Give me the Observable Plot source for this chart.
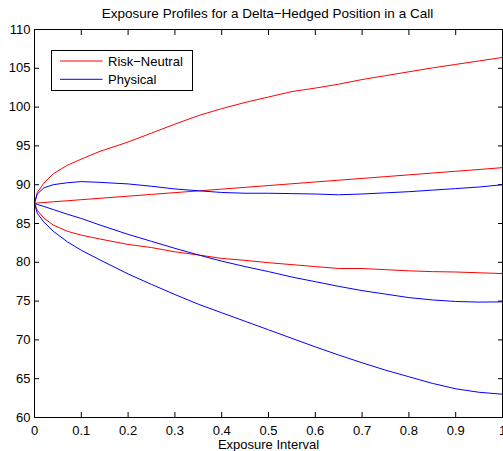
<!DOCTYPE html>
<html><head><meta charset="utf-8">
<script src="https://cdn.jsdelivr.net/npm/d3@7"></script>
<script src="https://cdn.jsdelivr.net/npm/@observablehq/plot@0.6"></script>
<style>
body{margin:0;background:#fff;font-family:"Liberation Sans",Arial,Helvetica,sans-serif;}
#wrap{position:relative;width:503px;height:451px;overflow:hidden;background:#fff;}
#title{position:absolute;left:34px;width:467px;top:6px;text-align:center;font-size:13.5px;color:#000;line-height:normal;white-space:nowrap;}
#chart{position:absolute;left:0;top:24px;}
#legend{position:absolute;left:0;top:0;}
</style>
</head><body>
<div id="wrap">
  <div id="title">Exposure Profiles for a Delta−Hedged Position in a Call</div>
  <div id="chart"></div>
  <svg id="legend" width="503" height="120"></svg>
</div>
<script>
// Exposure interval (x)
const t = [0, 0.006, 0.02, 0.04, 0.07, 0.1, 0.14, 0.2, 0.25, 0.3, 0.35, 0.4, 0.45, 0.5, 0.55, 0.6, 0.65, 0.7, 0.75, 0.8, 0.85, 0.9, 0.95, 1];
// Risk-Neutral profiles (red)
const rnUpper = [87.6, 89.0, 90.2, 91.4, 92.5, 93.3, 94.3, 95.5, 96.65, 97.8, 98.9, 99.8, 100.6, 101.3, 102.0, 102.45, 102.95, 103.55, 104.05, 104.55, 105.05, 105.5, 105.95, 106.4];
const rnMid   = [87.6, 87.63, 87.7, 87.8, 87.93, 88.07, 88.25, 88.52, 88.75, 88.98, 89.2, 89.43, 89.66, 89.89, 90.12, 90.35, 90.58, 90.81, 91.04, 91.27, 91.5, 91.73, 91.96, 92.2];
const rnLower = [87.6, 86.7, 85.7, 84.8, 84.0, 83.5, 83.0, 82.3, 81.9, 81.35, 80.95, 80.5, 80.25, 79.95, 79.7, 79.45, 79.2, 79.2, 79.05, 78.9, 78.8, 78.75, 78.65, 78.55];
// Physical profiles (blue)
const phUpper = [87.6, 88.8, 89.6, 90.0, 90.25, 90.4, 90.3, 90.1, 89.8, 89.45, 89.22, 89.0, 88.9, 88.9, 88.85, 88.8, 88.7, 88.8, 88.95, 89.1, 89.3, 89.5, 89.7, 90.0];
const phMid   = [87.6, 87.45, 87.2, 86.8, 86.2, 85.65, 84.8, 83.6, 82.7, 81.8, 80.95, 80.15, 79.45, 78.8, 78.1, 77.5, 76.9, 76.35, 75.9, 75.45, 75.15, 74.95, 74.87, 74.9];
const phLower = [87.6, 86.3, 85.2, 84.0, 82.65, 81.55, 80.3, 78.5, 77.15, 75.85, 74.6, 73.5, 72.4, 71.3, 70.2, 69.1, 68.05, 67.05, 66.1, 65.25, 64.4, 63.7, 63.25, 63.0];
// Ticks
const xTicks = [0, 0.1, 0.2, 0.3, 0.4, 0.5, 0.6, 0.7, 0.8, 0.9, 1];
const xTickLabels = ["0", "0.1", "0.2", "0.3", "0.4", "0.5", "0.6", "0.7", "0.8", "0.9", "1"];
const yTicks = [60, 65, 70, 75, 80, 85, 90, 95, 100, 105, 110];
const seriesNames = ["Risk−Neutral", "Physical"];
const seriesColors = ["#ff0000", "#0000ff"];

const groups = [
  {name: "rnU", set: 0, vals: rnUpper},
  {name: "rnM", set: 0, vals: rnMid},
  {name: "rnL", set: 0, vals: rnLower},
  {name: "phU", set: 1, vals: phUpper},
  {name: "phM", set: 1, vals: phMid},
  {name: "phL", set: 1, vals: phLower}
];
const rows = groups.flatMap(g => g.vals.map((v, i) => ({x: t[i], y: v, id: g.name, set: g.set})));

const font = '"Liberation Sans", Arial, Helvetica, sans-serif';
const plot = Plot.plot({
  width: 503,
  height: 427,
  marginLeft: 34,
  marginRight: 1,
  marginTop: 5,
  marginBottom: 34,
  x: {domain: [0, 1]},
  y: {domain: [60, 110]},
  style: {fontFamily: font, fontSize: "13px", color: "#000", background: "transparent", overflow: "visible"},
  marks: [
    Plot.axisX(xTicks, {anchor: "bottom", tickSize: -5, tickPadding: 13, tickFormat: (d, i) => xTickLabels[i], label: "Exposure Interval", labelAnchor: "center", labelArrow: "none", fontSize: 13}),
    Plot.axisX(xTicks, {anchor: "top", tickSize: -5, tickFormat: () => "", label: null}),
    Plot.axisY(yTicks, {anchor: "left", tickSize: -5, tickPadding: 9, label: null, fontSize: 13}),
    Plot.axisY(yTicks, {anchor: "right", tickSize: -5, tickFormat: () => "", label: null}),
    Plot.line(rows.filter(d => d.set === 0), {x: "x", y: "y", z: "id", stroke: seriesColors[0], strokeWidth: 1}),
    Plot.line(rows.filter(d => d.set === 1), {x: "x", y: "y", z: "id", stroke: seriesColors[1], strokeWidth: 1}),
    Plot.frame({stroke: "#000", strokeWidth: 1})
  ]
});
document.getElementById("chart").appendChild(plot);

// Legend (overlay box in top-left of the axes)
const lg = d3.select("#legend");
lg.append("rect").attr("x", 51.5).attr("y", 50.5).attr("width", 141).attr("height", 40)
  .attr("fill", "#fff").attr("stroke", "#000").attr("stroke-width", 1);
seriesNames.forEach((name, i) => {
  const yy = 61 + i * 18.3;
  lg.append("line").attr("x1", 60).attr("x2", 102.5).attr("y1", yy).attr("y2", yy)
    .attr("stroke", seriesColors[i]).attr("stroke-width", 1);
  lg.append("text").attr("x", 108).attr("y", yy + 4.5).attr("font-family", font)
    .attr("font-size", 13).attr("fill", "#000").text(name);
});
</script>
</body></html>
